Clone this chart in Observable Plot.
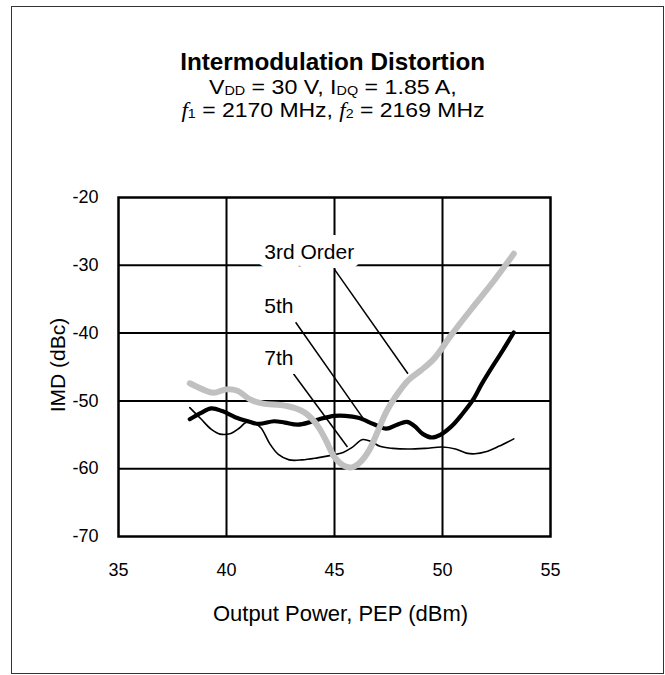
<!DOCTYPE html>
<html>
<head>
<meta charset="utf-8">
<script src="https://cdn.jsdelivr.net/npm/d3@7"></script>
<script src="https://cdn.jsdelivr.net/npm/@observablehq/plot@0.6"></script>
<style>
  body { margin: 0; background: #fff; font-family: "Liberation Sans", Arial, sans-serif; color: #000; }
  #wrap { position: relative; width: 665px; height: 675px; overflow: hidden; }
  #border { position: absolute; left: 11px; top: 6px; width: 653px; height: 668px; border: 1.5px solid #333; box-sizing: border-box; }
  .t { position: absolute; left: 0; width: 665px; text-align: center; white-space: nowrap; }
  .t span.s { display: inline-block; transform-origin: 50% 50%; }
  #title { top: 50px; font-size: 24px; line-height: 24px; font-weight: bold; }
  #sub1 { top: 77px; font-size: 20px; line-height: 20px; }
  #sub2 { top: 100px; font-size: 20px; line-height: 20px; }
  sub { font-size: 0.62em; vertical-align: -0.12em; line-height: 0; }
  .f { font-family: "Liberation Serif", serif; font-style: italic; }
  #chart { position: absolute; left: 0; top: 150px; }
</style>
</head>
<body>
<div id="wrap">
  <div id="border"></div>
  <div class="t" id="title"><span class="s" data-w="305">Intermodulation Distortion</span></div>
  <div class="t" id="sub1"><span class="s" data-w="248">V<sub>DD</sub> = 30 V, I<sub>DQ</sub> = 1.85 A,</span></div>
  <div class="t" id="sub2"><span class="s" data-w="303"><span class="f">f</span><sub>1</sub> = 2170 MHz, <span class="f">f</span><sub>2</sub> = 2169 MHz</span></div>
  <div id="chart"></div>
</div>
<script>
// ---- data ----
const xTicks = [35, 40, 45, 50, 55];
const yTicks = [-20, -30, -40, -50, -60, -70];
const xGrid = [40, 45, 50];
const yGrid = [-30, -40, -50, -60];

// 3rd order IMD (gray)
const third = [
  [38.3, -47.4], [38.9, -48.3], [39.4, -48.8], [40.0, -48.3], [40.5, -48.5],
  [41.1, -49.8], [41.7, -50.4], [42.5, -50.6], [43.1, -51.0], [43.7, -51.9],
  [44.2, -53.6], [44.6, -55.8], [45.0, -58.3], [45.4, -59.5], [45.8, -59.8],
  [46.2, -59.0], [46.6, -57.3], [47.0, -54.5], [47.4, -51.6], [47.8, -49.5],
  [48.4, -47.0], [49.0, -45.5], [49.6, -43.8], [50.4, -40.3], [51.4, -36.2],
  [52.4, -32.2], [53.3, -28.3]
];
// 5th order IMD (thick black)
const fifth = [
  [38.3, -52.7], [38.8, -51.8], [39.3, -51.1], [39.8, -51.5], [40.4, -52.4],
  [41.0, -53.0], [41.5, -53.4], [42.2, -53.0], [42.7, -53.2], [43.3, -53.5],
  [43.9, -53.1], [44.4, -52.6], [45.0, -52.2], [45.5, -52.2], [46.1, -52.5],
  [46.8, -53.4], [47.4, -54.1], [47.9, -53.5], [48.35, -53.1], [48.7, -53.7],
  [49.1, -54.9], [49.5, -55.4], [49.9, -55.0], [50.4, -53.8], [50.9, -52.0],
  [51.4, -49.9], [51.8, -47.6], [52.2, -45.5], [52.8, -42.5], [53.3, -39.9]
];
// 7th order IMD (thin black)
const seventh = [
  [38.3, -51.0], [38.8, -52.6], [39.3, -54.2], [39.7, -54.9], [40.2, -54.8],
  [40.6, -54.0], [40.9, -53.2], [41.3, -53.3], [41.6, -54.0], [42.0, -56.3],
  [42.4, -57.9], [42.9, -58.7], [43.5, -58.7], [44.2, -58.4], [44.9, -58.0],
  [45.4, -57.6], [45.8, -56.9], [46.3, -55.7], [46.7, -56.0], [47.1, -56.7],
  [47.7, -57.0], [48.4, -57.1], [49.2, -57.0], [50.0, -56.8], [50.6, -57.1],
  [51.1, -57.7], [51.5, -57.8], [52.0, -57.5], [52.6, -56.7], [53.3, -55.6]
];

const labelNames = ["3rd Order", "5th", "7th"];
const labelX = [41.75, 41.75, 41.75];
const labelY = [-28.1, -36.1, -43.75];
const leaderFrom = [[45.0, -30.6], [43.2, -38.4], [43.1, -46.0]];
const leaderTo = [[48.4, -46.0], [46.4, -52.9], [45.6, -56.8]];

const xTitle = "Output Power, PEP (dBm)";
const yTitle = "IMD (dBc)";

// ---- build ----
const pts = a => a.map(([x, y]) => ({x, y}));
const labels = labelNames.map((t, i) => ({t, x: labelX[i], y: labelY[i]}));
const leaders = leaderFrom.map((f, i) => ({x1: f[0], y1: f[1], x2: leaderTo[i][0], y2: leaderTo[i][1]}));
const font = '"Liberation Sans", Arial, sans-serif';

const chart = Plot.plot({
  width: 665,
  height: 525,
  marginLeft: 118,
  marginRight: 115,
  marginTop: 47,
  marginBottom: 139,
  x: {domain: [35, 55]},
  y: {domain: [-70, -20]},
  style: {fontFamily: font, fontSize: "18px", color: "#000", background: "transparent"},
  marks: [
    Plot.ruleX(xGrid, {stroke: "#000", strokeWidth: 2}),
    Plot.ruleY(yGrid, {stroke: "#000", strokeWidth: 2}),
    Plot.line(pts(seventh), {x: "x", y: "y", stroke: "#000", strokeWidth: 1.6, curve: "catmull-rom"}),
    Plot.line(pts(fifth), {x: "x", y: "y", stroke: "#000", strokeWidth: 4.2, curve: "catmull-rom", strokeLinecap: "round"}),
    Plot.line(pts(third), {x: "x", y: "y", stroke: "#c0c0c0", strokeWidth: 6, curve: "catmull-rom", strokeLinecap: "round"}),
    Plot.link(leaders, {x1: "x1", y1: "y1", x2: "x2", y2: "y2", stroke: "#000", strokeWidth: 1.5}),
    Plot.text(labels, {x: "x", y: "y", text: "t", textAnchor: "start", fontSize: 21, fill: "#000", stroke: "#fff", strokeWidth: 18}),
    Plot.frame({stroke: "#000", strokeWidth: 2.5}),
    Plot.axisX(xTicks, {tickSize: 0, tickPadding: 27, fontSize: 18, label: null, tickFormat: d => String(d)}),
    Plot.axisY(yTicks, {tickSize: 0, tickPadding: 20, fontSize: 18, label: null, tickFormat: d => String(d)}),
    Plot.text([xTitle], {frameAnchor: "bottom", text: d => d, textAnchor: "middle", lineAnchor: "middle", dy: 77, dx: 6, fontSize: 22, fill: "#000"}),
    Plot.text([yTitle], {frameAnchor: "left", text: d => d, textAnchor: "middle", lineAnchor: "middle", rotate: -90, dx: -60, dy: -2, fontSize: 21, fill: "#000"})
  ]
});
document.getElementById("chart").appendChild(chart);

// fit title lines horizontally to their target widths
document.querySelectorAll(".t span.s").forEach(el => {
  const w = el.getBoundingClientRect().width;
  const target = +el.dataset.w;
  if (w > 0) el.style.transform = `scaleX(${(target / w).toFixed(3)})`;
});
</script>
</body>
</html>
